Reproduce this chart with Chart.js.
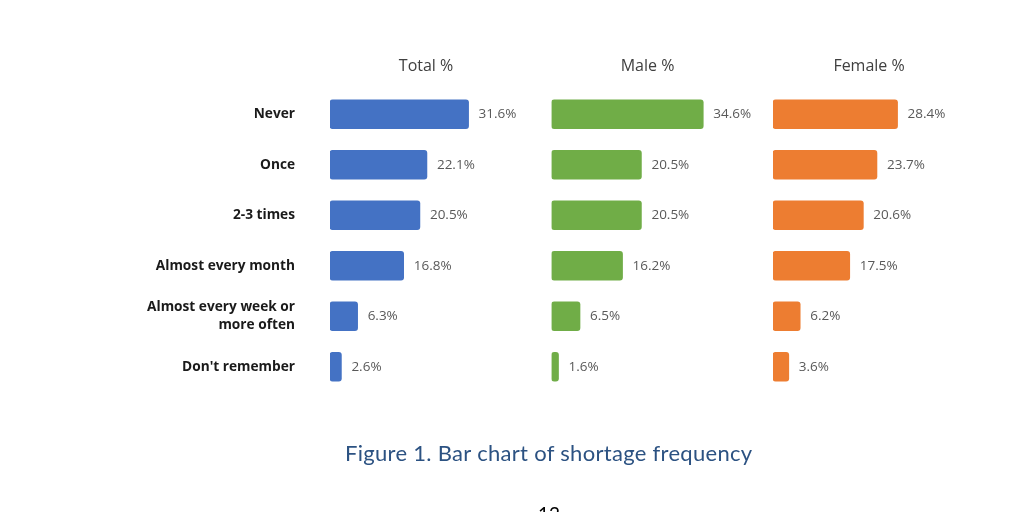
<!DOCTYPE html>
<html>
<head>
<meta charset="utf-8">
<script src="https://cdn.jsdelivr.net/npm/chart.js@4/dist/chart.umd.min.js"></script>
<style>
  html, body { margin: 0; padding: 0; background: #fff; width: 1024px; height: 525px; overflow: hidden; }
  #wrap { position: relative; width: 1024px; height: 525px; }
  #caption { position: absolute; left: 345px; top: 440px; font-family: Lato, sans-serif; font-size: 22px; line-height: 1.2; letter-spacing: 0.3px; color: #2c5282; white-space: nowrap; }
  #pageclip { position: absolute; left: 530px; top: 500px; width: 40px; height: 12px; overflow: hidden; }
  #page { position: absolute; left: 8px; top: 3px; font-family: Lato, sans-serif; font-size: 19px; line-height: 1.2; color: #000; }
</style>
</head>
<body>
<div id="wrap">
  <canvas id="shortageChart" width="1024" height="525"></canvas>
  <div id="caption">Figure 1. Bar chart of shortage frequency</div>
  <div id="pageclip"><div id="page">12</div></div>
</div>
<script>
const categories = ['Never', 'Once', '2-3 times', 'Almost every month', ['Almost every week or', 'more often'], "Don't remember"];
const panelTitles = ['Total %', 'Male %', 'Female %'];
const totalPct = [31.6, 22.1, 20.5, 16.8, 6.3, 2.6];
const malePct = [34.6, 20.5, 20.5, 16.2, 6.5, 1.6];
const femalePct = [28.4, 23.7, 20.6, 17.5, 6.2, 3.6];

const panelMax = 50.5;
const headerAt = 21.9;

// value labels after each bar + panel headers
const barLabels = {
    id: 'barLabels',
    afterDatasetsDraw(chart) {
        const ctx = chart.ctx;
        ctx.save();
        ctx.font = '13.5px "Open Sans", sans-serif';
        ctx.fillStyle = '#595959';
        ctx.textAlign = 'left';
        ctx.textBaseline = 'middle';
        chart.data.datasets.forEach((ds, i) => {
            chart.getDatasetMeta(i).data.forEach((bar, j) => {
                ctx.fillText(ds.data[j].toFixed(1) + '%', bar.x + 10, bar.y);
            });
        });
        ctx.font = '16px "Open Sans", sans-serif';
        ctx.fillStyle = '#404040';
        ctx.textAlign = 'center';
        ['xTotal', 'xMale', 'xFemale'].forEach((id, i) => {
            ctx.fillText(panelTitles[i], chart.scales[id].getPixelForValue(headerAt), 66);
        });
        ctx.restore();
    }
};

function panelAxis() {
    return {
        type: 'linear',
        axis: 'x',
        position: 'top',
        stack: 'panels',
        stackWeight: 1,
        min: 0,
        max: panelMax,
        grid: { display: false, drawTicks: false },
        border: { display: false },
        ticks: { display: false }
    };
}

new Chart(document.getElementById('shortageChart').getContext('2d'), {
    type: 'bar',
    data: {
        labels: categories,
        datasets: [
            { label: panelTitles[0], data: totalPct, backgroundColor: '#4472c4', xAxisID: 'xTotal' },
            { label: panelTitles[1], data: malePct, backgroundColor: '#70ad47', xAxisID: 'xMale' },
            { label: panelTitles[2], data: femalePct, backgroundColor: '#ed7d31', xAxisID: 'xFemale' }
        ]
    },
    options: {
        indexAxis: 'y',
        responsive: false,
        animation: false,
        layout: { padding: { left: 147, top: 89, right: 29.5, bottom: 133 } },
        datasets: {
            bar: { grouped: false, barThickness: 29, borderRadius: 3, borderSkipped: false }
        },
        plugins: {
            legend: { display: false },
            tooltip: { enabled: false }
        },
        scales: {
            // top boxes are laid out in reverse, so list the panels right to left
            xFemale: panelAxis(),
            xMale: panelAxis(),
            xTotal: panelAxis(),
            y: {
                type: 'category',
                offset: true,
                grid: { display: false, drawTicks: false },
                border: { display: false },
                ticks: {
                    padding: 35,
                    color: '#1a1a1a',
                    font: { family: '"Open Sans", sans-serif', size: 13.7, weight: 'bold', lineHeight: 1.35 }
                },
                afterFit(scale) { scale.width = 183; }
            }
        }
    },
    plugins: [barLabels]
});
</script>
</body>
</html>
